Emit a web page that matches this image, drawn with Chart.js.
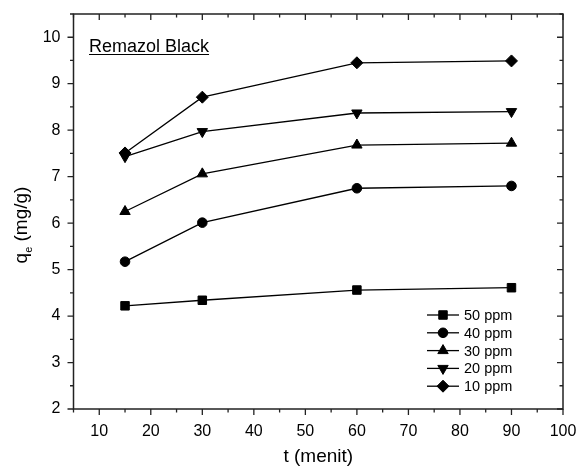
<!DOCTYPE html>
<html>
<head>
<meta charset="utf-8">
<script src="https://cdn.jsdelivr.net/npm/chart.js@4/dist/chart.umd.min.js"></script>
<style>
  html, body { margin: 0; padding: 0; background: #fff; }
  #wrap { width: 579px; height: 468px; }
</style>
</head>
<body>
<div id="wrap"><canvas id="c" width="579" height="468"></canvas></div>
<script>
// tempo de contato (min) e capacidade de adsorcao qe (mg/g)
const tempo = [15, 30, 60, 90];
const ppm50 = [4.22, 4.34, 4.56, 4.61];
const ppm40 = [5.17, 6.01, 6.75, 6.80];
const ppm30 = [6.25, 7.06, 7.68, 7.72];
const ppm20 = [7.43, 7.97, 8.37, 8.40];
const ppm10 = [7.51, 8.71, 9.45, 9.49];
const rotulos = ['50 ppm', '40 ppm', '30 ppm', '20 ppm', '10 ppm'];

const FONT = "'Liberation Sans', Arial, sans-serif";
const INK = '#000';

function serie(label, ys, style, radius, rot = 0) {
  return {
    label,
    data: tempo.map((x, i) => ({ x, y: ys[i] })),
    borderColor: INK, borderWidth: 1.3,
    pointStyle: style, pointRadius: radius, pointHoverRadius: radius,
    pointRotation: rot,
    pointBackgroundColor: INK, pointBorderColor: INK, pointBorderWidth: 1,
    tension: 0,
  };
}

// marcador da legenda (mesmos simbolos dos pontos)
function marcador(ctx, style, r, rot, x, y) {
  ctx.beginPath();
  if (style === 'circle') {
    ctx.arc(x, y, r, 0, Math.PI * 2);
  } else if (style === 'rect') {
    const s = Math.SQRT1_2 * r;
    ctx.rect(x - s, y - s, 2 * s, 2 * s);
  } else if (style === 'rectRot') {
    ctx.moveTo(x, y - r); ctx.lineTo(x + r, y); ctx.lineTo(x, y + r); ctx.lineTo(x - r, y);
    ctx.closePath();
  } else {
    const d = rot ? -1 : 1;
    const h = r * 0.5;
    ctx.moveTo(x, y - d * r);
    ctx.lineTo(x + r * Math.sin(Math.PI / 3), y + d * h);
    ctx.lineTo(x - r * Math.sin(Math.PI / 3), y + d * h);
    ctx.closePath();
  }
  ctx.fill();
  ctx.stroke();
}

// moldura, ticks menores/maiores, titulos e legenda
const moldura = {
  id: 'moldura',
  afterDraw(chart) {
    const { ctx, chartArea: a, scales: { x, y } } = chart;
    ctx.save();
    ctx.strokeStyle = '#222';
    ctx.lineWidth = 1.5;
    ctx.strokeRect(a.left, a.top, a.right - a.left, a.bottom - a.top);
    ctx.lineWidth = 1.3;
    ctx.beginPath();
    x.ticks.forEach((t) => {
      const px = x.getPixelForValue(t.value);
      const len = t.value % 10 === 0 ? 6 : 3.5;
      ctx.moveTo(px, a.bottom); ctx.lineTo(px, a.bottom + len);
      ctx.moveTo(px, a.top); ctx.lineTo(px, a.top + len);
    });
    y.ticks.forEach((t) => {
      const py = y.getPixelForValue(t.value);
      const len = Number.isInteger(t.value) ? 6 : 3.5;
      ctx.moveTo(a.left, py); ctx.lineTo(a.left - len, py);
      ctx.moveTo(a.right, py); ctx.lineTo(a.right - len, py);
    });
    ctx.stroke();

    // titulo do eixo x
    ctx.fillStyle = INK;
    ctx.font = `19px ${FONT}`;
    ctx.textAlign = 'center';
    ctx.textBaseline = 'alphabetic';
    ctx.fillText('t (menit)', (a.left + a.right) / 2, 462);

    // titulo do eixo y com subscrito
    ctx.save();
    ctx.translate(27, 225);
    ctx.rotate(-Math.PI / 2);
    ctx.font = `19px ${FONT}`;
    const wq = ctx.measureText('q').width;
    ctx.font = `11px ${FONT}`;
    const we = ctx.measureText('e').width;
    ctx.font = `19px ${FONT}`;
    const resto = ' (mg/g)';
    const wr = ctx.measureText(resto).width;
    let cx = -(wq + we + wr) / 2;
    ctx.textAlign = 'left';
    ctx.fillText('q', cx, 0); cx += wq;
    ctx.font = `11px ${FONT}`;
    ctx.fillText('e', cx, 5); cx += we;
    ctx.font = `19px ${FONT}`;
    ctx.fillText(resto, cx, 0);
    ctx.restore();

    // rotulo do corante
    ctx.font = `18px ${FONT}`;
    ctx.textAlign = 'left';
    const txt = 'Remazol Black';
    ctx.fillText(txt, 89, 52);
    const w = ctx.measureText(txt).width;
    ctx.strokeStyle = INK;
    ctx.lineWidth = 1.2;
    ctx.beginPath();
    ctx.moveTo(89, 54.5); ctx.lineTo(89 + w, 54.5);
    ctx.stroke();

    // legenda
    ctx.font = `14.5px ${FONT}`;
    ctx.textBaseline = 'middle';
    chart.data.datasets.forEach((ds, i) => {
      const ly = 315 + i * 17.8;
      ctx.strokeStyle = INK; ctx.fillStyle = INK; ctx.lineWidth = 1.3;
      ctx.beginPath(); ctx.moveTo(427, ly); ctx.lineTo(459, ly); ctx.stroke();
      ctx.lineWidth = 1;
      marcador(ctx, ds.pointStyle, ds.pointRadius, ds.pointRotation, 443, ly);
      ctx.fillText(ds.label, 464, ly + 1);
    });
    ctx.restore();
  },
};

new Chart(document.getElementById('c'), {
  type: 'line',
  data: {
    datasets: [
      serie(rotulos[0], ppm50, 'rect', 6),
      serie(rotulos[1], ppm40, 'circle', 4.8),
      serie(rotulos[2], ppm30, 'triangle', 6),
      serie(rotulos[3], ppm20, 'triangle', 6, 180),
      serie(rotulos[4], ppm10, 'rectRot', 6),
    ],
  },
  plugins: [moldura],
  options: {
    responsive: false,
    animation: false,
    layout: { padding: { left: 0, top: 14, right: 16, bottom: 0 } },
    plugins: { legend: { display: false }, tooltip: { enabled: false } },
    scales: {
      x: {
        type: 'linear', min: 5, max: 100,
        border: { display: false },
        grid: { display: false, drawTicks: false },
        ticks: {
          stepSize: 5, autoSkip: false, maxRotation: 0, padding: 13,
          color: INK, font: { family: FONT, size: 16 },
          callback: (v) => (v % 10 === 0 ? v : ''),
        },
        afterFit: (s) => { s.height = 59; s.paddingLeft = 0; s.paddingRight = 0; },
      },
      y: {
        min: 2, max: 10.5,
        border: { display: false },
        grid: { display: false, drawTicks: false },
        ticks: {
          stepSize: 0.5, autoSkip: false, padding: 13,
          color: INK, font: { family: FONT, size: 16 },
          callback: (v) => (Number.isInteger(v) ? v : ''),
        },
        afterFit: (s) => { s.width = 73.5; s.paddingTop = 0; s.paddingBottom = 0; },
      },
    },
  },
});
</script>
</body>
</html>
